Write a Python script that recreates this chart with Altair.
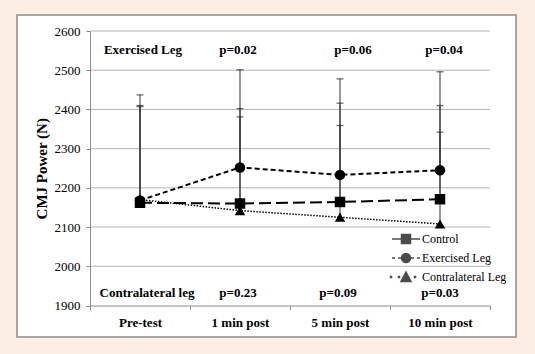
import altair as alt
import pandas as pd

categories = ["Pre-test", "1 min post", "5 min post", "10 min post"]
series = ["Control", "Exercised Leg", "Contralateral Leg"]
control_mean = [2162, 2160, 2164, 2171]
exercised_mean = [2168, 2252, 2233, 2245]
contra_mean = [2170, 2142, 2125, 2108]
control_upper = [2410, 2402, 2416, 2410]
exercised_upper = [2437, 2501, 2478, 2496]
contra_upper = [2407, 2381, 2359, 2342]
top_labels = ["Exercised Leg", "p=0.02", "p=0.06", "p=0.04"]
bottom_labels = ["Contralateral leg", "p=0.23", "p=0.09", "p=0.03"]
y_ticks = [1900, 2000, 2100, 2200, 2300, 2400, 2500, 2600]

# style lists
top_dx = [3, -2, 13, 4]
bottom_dx = [7, -2, -2, 0]
point_shapes = ["square", "circle", "triangle-up"]
line_dashes = [[12, 5], [5, 3], [1.5, 1.5]]
line_widths = [2, 2, 1.5]
TOP_Y = 2551
BOTTOM_Y = 1932

rows = []
for s, means, ups in [
    ("Control", control_mean, control_upper),
    ("Exercised Leg", exercised_mean, exercised_upper),
    ("Contralateral Leg", contra_mean, contra_upper),
]:
    for c, m, u in zip(categories, means, ups):
        rows.append({"Time": c, "Series": s, "Mean": m, "Upper": u})
df = pd.DataFrame(rows)

FONT = "Liberation Serif"
GRAY = "#8c8c8c"

xscale = alt.Scale(type="band", domain=categories, paddingInner=0, paddingOuter=0)
yscale = alt.Scale(domain=[1900, 2600], nice=False, zero=False)

x_axis = alt.Axis(title=None, tickBand="extent", labelFont=FONT, labelFontWeight="bold",
                  labelFontSize=13, labelPadding=7, tickSize=4, domainColor=GRAY,
                  tickColor=GRAY, grid=False, labelAngle=0, zindex=1, labelColor="black")
y_axis = alt.Axis(title="CMJ Power (N)", values=y_ticks, format="d", grid=False, tickSize=4,
                  labelFont=FONT, labelFontSize=13, labelPadding=6, labelColor="black",
                  domainColor=GRAY, tickColor=GRAY, titleFont=FONT, titleFontSize=15,
                  titleFontWeight="bold", titleColor="black", titlePadding=5, zindex=1)

X = alt.X("Time:N", sort=categories, scale=xscale, axis=x_axis)


def Yf(field):
    return alt.Y(field, scale=yscale, axis=y_axis, title="CMJ Power (N)")


frame = alt.Chart(pd.DataFrame({"a": [0]})).mark_rect(
    fill="white", stroke=GRAY, strokeWidth=1.5
).encode(x=alt.value(-73), x2=alt.value(426), y=alt.value(-16), y2=alt.value(306))

grid = alt.Chart(pd.DataFrame({"v": y_ticks[1:]})).mark_rule(
    color="#b4b4b4", strokeWidth=1
).encode(y=Yf("v:Q"))

err = alt.Chart(df).mark_rule(color="#333333", strokeWidth=1).encode(
    x=X, y=Yf("Mean:Q"), y2="Upper:Q"
)
caps = alt.Chart(df).mark_tick(color="#222222", thickness=1.2, size=7).encode(
    x=X, y=Yf("Upper:Q")
)

line_layers = []
point_layers = []
for s, shp, dash, w in zip(series, point_shapes, line_dashes, line_widths):
    sub = alt.Chart(df).transform_filter(alt.datum.Series == s)
    line_layers.append(
        sub.mark_line(color="black", strokeDash=dash, strokeWidth=w).encode(x=X, y=Yf("Mean:Q"))
    )
    point_layers.append(
        sub.mark_point(filled=True, color="black", size=110, opacity=1, shape=shp).encode(
            x=X, y=Yf("Mean:Q"))
    )

legend_paths = [
    "M-2.8,0H2.8M-0.9,-0.9H0.9V0.9H-0.9Z",
    "M-2.8,0H-2.2M-1.6,0H-1.0M1.0,0H1.6M2.2,0H2.8M-0.9,0A0.9,0.9 0 1,0 0.9,0A0.9,0.9 0 1,0 -0.9,0Z",
    "M-3.1,-0.1H-2.9V0.1H-3.1ZM-1.5,-0.1H-1.3V0.1H-1.5ZM1.7,-0.1H1.9V0.1H1.7ZM0,-1L1,0.9H-1Z",
]
# legend-only layer: its marks are placed off-canvas, only the legend shows
legend_layer = alt.Chart(df).mark_point(
    filled=True, color="black", stroke="black", strokeWidth=1.5
).encode(
    x=X, y=alt.value(-2000),
    shape=alt.Shape("Series:N", scale=alt.Scale(domain=series, range=legend_paths),
                    legend=alt.Legend(orient="none", legendX=310, legendY=202, title=None,
                                      symbolSize=100, symbolStrokeWidth=1.5,
                                      labelFont=FONT, labelFontSize=12,
                                      labelColor="black", labelOffset=10, rowPadding=3,
                                      padding=0)),
)

texts = []
for i, c in enumerate(categories):
    texts.append(
        alt.Chart(pd.DataFrame({"Time": [c], "label": [top_labels[i]]})).mark_text(
            font=FONT, fontWeight="bold", fontSize=13, color="black", dx=top_dx[i]
        ).encode(x=X, y=alt.Y(datum=TOP_Y, scale=yscale, axis=y_axis, title="CMJ Power (N)"), text="label:N")
    )
    texts.append(
        alt.Chart(pd.DataFrame({"Time": [c], "label": [bottom_labels[i]]})).mark_text(
            font=FONT, fontWeight="bold", fontSize=13, color="black", dx=bottom_dx[i]
        ).encode(x=X, y=alt.Y(datum=BOTTOM_Y, scale=yscale, axis=y_axis, title="CMJ Power (N)"), text="label:N")
    )

chart = alt.layer(frame, grid, err, caps, *line_layers, *point_layers, legend_layer, *texts).properties(
    width=400, height=274.5,
    autosize=alt.AutoSizeParams(type="none"),
    padding={"left": 90, "top": 31, "right": 45, "bottom": 48.5},
    background="#fdeee3",
).configure_view(stroke=None).configure_legend(labelFont=FONT, labelFontSize=12, labelColor="black")

chart.save("out.html", embed_options={"renderer": "svg", "actions": False})
